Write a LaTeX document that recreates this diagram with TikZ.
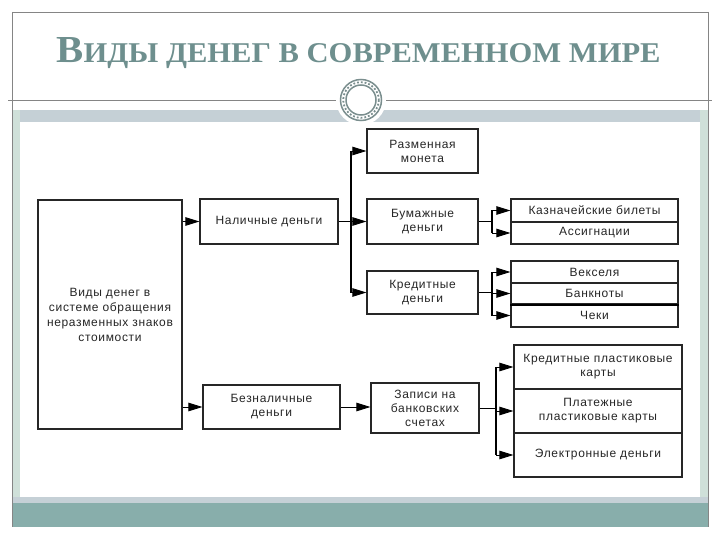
\documentclass[tikz,border=0pt]{standalone}
\usepackage{fontspec}
\usepackage{graphicx}
\setmainfont{Liberation Sans}
\newfontfamily\titlefont{Liberation Serif}
\newfontfamily\boxfont[LetterSpace=5.5]{Liberation Sans}
\usetikzlibrary{arrows.meta}
\definecolor{bandgrey}{HTML}{C5D0D6}
\definecolor{stripgreen}{HTML}{CFE0D9}
\definecolor{teal}{HTML}{88AEAB}
\definecolor{titlecol}{HTML}{6E8F8E}
\definecolor{framecol}{HTML}{858585}
\definecolor{ringcol}{HTML}{7A8E8E}
\tikzset{
  box/.style={draw=black!85, line width=1.2pt, fill=white, align=center, inner sep=1pt,
    text=black!85, font=\boxfont\fontsize{12}{14}\selectfont},
  arr/.style={-{Triangle[length=14pt,width=8.5pt]}, line width=0.9pt, black},
  conn/.style={line width=0.9pt, black},
  bus/.style={line width=2pt, black},
  bustwo/.style={line width=1.4pt, black},
  frameline/.style={draw=framecol, line width=0.8pt}
}
\begin{document}
\begin{tikzpicture}[x=1pt,y=-1pt]
\useasboundingbox (0,0) rectangle (720,540);
\fill[white] (0,0) rectangle (720,540);
% decor
\fill[bandgrey] (12,110) rectangle (708,122);
\fill[stripgreen] (12,110) rectangle (20,497);
\fill[stripgreen] (700,110) rectangle (708,497);
\fill[bandgrey] (12,497) rectangle (708,503);
\fill[teal] (12,503) rectangle (708,527);
\draw[frameline] (12,12) -- (708,12);
\draw[frameline] (12,12) -- (12,527);
\draw[frameline] (708,12) -- (708,527);
\draw[frameline] (8,100) -- (712,100);
\fill[white] (361,100) circle (25);
\draw[ringcol, line width=1.5pt] (361,100) circle (20.5);
\draw[ringcol, line width=1.5pt] (361,100) circle (15);
\draw[ringcol, line width=1.8pt, dotted] (361,100) circle (17.8);
% title
\node[anchor=base, inner sep=0pt, text=titlecol] (title) at (358.5,63)
  {\resizebox{604pt}{25pt}{\titlefont\bfseries\fontsize{36}{36}\selectfont В\fontsize{27}{27}\selectfont ИДЫ ДЕНЕГ В СОВРЕМЕННОМ МИРЕ}};
% boxes
\node[box, minimum width=144pt, minimum height=229pt, font=\boxfont\fontsize{12}{15}\selectfont] (main) at (110,314.5)
  {Виды денег в\\системе обращения\\неразменных знаков\\стоимости};
\node[box, minimum width=138pt, minimum height=45pt] (nal) at (269,221.5) {Наличные деньги};
\node[box, minimum width=137pt, minimum height=44pt] (beznal) at (271.5,407) {Безналичные\\деньги};
\node[box, minimum width=111pt, minimum height=44pt] (razm) at (422.5,151) {Разменная\\монета};
\node[box, minimum width=111pt, minimum height=45pt] (bum) at (422.5,221.5) {Бумажные\\деньги};
\node[box, minimum width=111pt, minimum height=43pt] (kred) at (422.5,292.5) {Кредитные\\деньги};
\node[box, minimum width=108pt, minimum height=50pt] (zap) at (425,408) {Записи на\\банковских\\счетах};
\node[box, minimum width=167pt, minimum height=23pt] (kazn) at (594.5,210.5) {Казначейские билеты};
\node[box, minimum width=167pt, minimum height=22pt] (assig) at (594.5,233) {Ассигнации};
\node[box, minimum width=167pt, minimum height=22pt] (veks) at (594.5,272) {Векселя};
\node[box, minimum width=167pt, minimum height=21pt] (bank) at (594.5,293.5) {Банкноты};
\node[box, minimum width=167pt, minimum height=23pt] (cheki) at (594.5,315.5) {Чеки};
\draw[line width=2pt] (bank.south west) -- (bank.south east);
\node[box, minimum width=168pt, minimum height=44pt] (kpk) at (598,367) {Кредитные пластиковые\\карты};
\node[box, minimum width=168pt, minimum height=44pt] (ppk) at (598,411) {Платежные\\пластиковые карты};
\node[box, minimum width=168pt, minimum height=44pt] (el) at (598,455) {Электронные деньги};
% connectors
\draw[arr] (main.east |- nal.west) -- (nal.west);
\draw[arr] (main.east |- beznal.west) -- (beznal.west);
\coordinate (b1) at (351,221.5);
\draw[conn] (nal.east) -- (b1);
\draw[bus] (b1 |- razm.west) -- (b1 |- kred.west);
\draw[arr] (b1 |- razm.west) -- (razm.west);
\draw[arr] (b1) -- (bum.west);
\draw[arr] (b1 |- kred.west) -- (kred.west);
\coordinate (b2) at (492,221.5);
\draw[conn] (bum.east) -- (b2);
\draw[bustwo] (b2 |- kazn.west) -- (b2 |- assig.west);
\draw[arr] (b2 |- kazn.west) -- (kazn.west);
\draw[arr] (b2 |- assig.west) -- (assig.west);
\coordinate (b3) at (492,292.5);
\draw[conn] (kred.east) -- (b3);
\draw[bustwo] (b3 |- veks.west) -- (b3 |- cheki.west);
\draw[arr] (b3 |- veks.west) -- (veks.west);
\draw[arr] (b3 |- bank.west) -- (bank.west);
\draw[arr] (b3 |- cheki.west) -- (cheki.west);
\draw[arr] (beznal.east) -- (zap.west |- beznal.east);
\coordinate (b4) at (496,408);
\draw[conn] (zap.east) -- (b4);
\draw[bustwo] (b4 |- kpk.west) -- (b4 |- el.west);
\draw[arr] (b4 |- kpk.west) -- (kpk.west);
\draw[arr] (b4 |- ppk.west) -- (ppk.west);
\draw[arr] (b4 |- el.west) -- (el.west);
\end{tikzpicture}
\end{document}
